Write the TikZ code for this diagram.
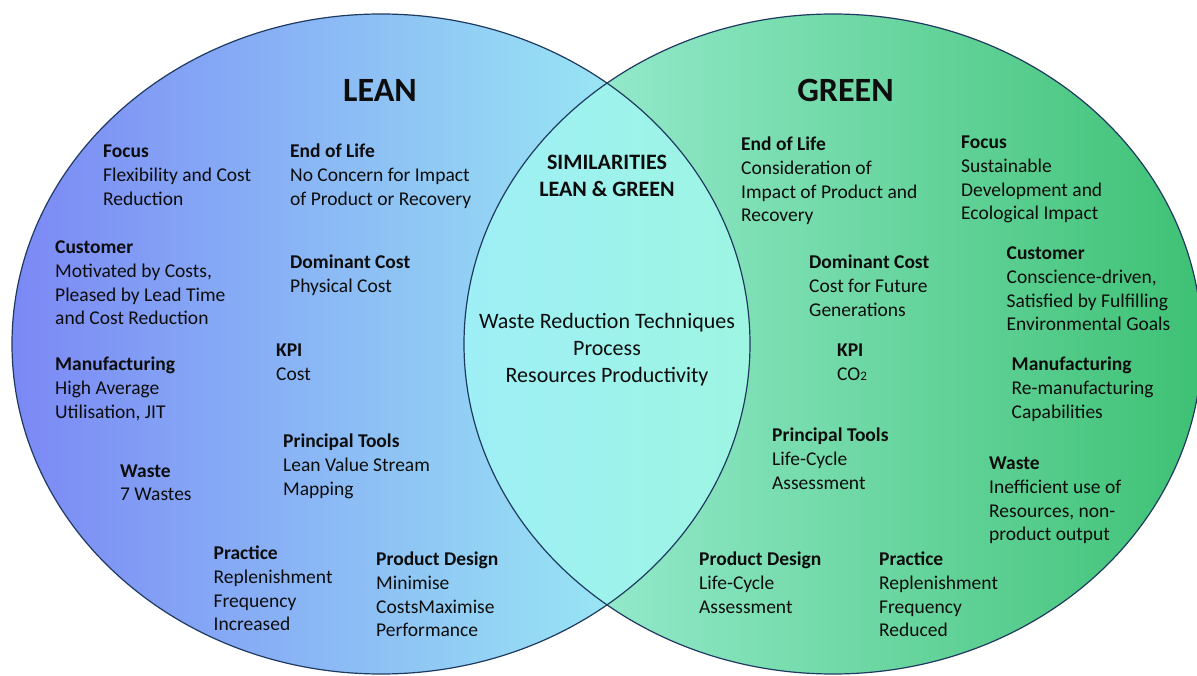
\documentclass[tikz,border=0pt]{standalone}
\usepackage{fontspec}
\setmainfont{Carlito}

% fills of the two sets and of their overlap
\definecolor{leanL}{HTML}{7B88F5}
\definecolor{leanM}{HTML}{A4D4F6}
\definecolor{leanR}{HTML}{A0FBF4}
\definecolor{greenL}{HTML}{A6F2DE}
\definecolor{greenM}{HTML}{84E3BB}
\definecolor{greenR}{HTML}{3EC174}
\definecolor{bothL}{HTML}{9EEFF6}
\definecolor{bothR}{HTML}{9EF5E2}
\definecolor{rim}{HTML}{1F3A60}
\definecolor{txt}{HTML}{0D0D0D}

% a bold heading followed by left-aligned lines (separated by \cr);
% the box's baseline is the heading's baseline
\newcommand{\infoblock}[2]{\vtop{\halign{##\hfil\cr\textbf{#1}\cr#2\crcr}}}
% centred lines, baseline at the first line
\newcommand{\centreblock}[1]{\vtop{\halign{\hfil##\hfil\cr#1\crcr}}}

\begin{document}
\begin{tikzpicture}[x=1pt,y=-1pt,
  info/.style={anchor=base west, inner sep=0pt, text=txt,
    font=\fontsize{19.5}{23.8}\selectfont},
  settitle/.style={anchor=base, inner sep=0pt, text=txt,
    font=\fontsize{34}{40}\selectfont\bfseries},
  overlap/.style={anchor=base, inner sep=0pt, text=txt},
  rimline/.style={draw=rim, line width=1.2pt}]

\useasboundingbox (0,0) rectangle (1197,676);
\fill[white] (0,0) rectangle (1197,676);
\clip (0,0) rectangle (1197,676);

% the two sets
\shade[left color=leanL, middle color=leanM, right color=leanR]
  (381,344) ellipse [x radius=369pt, y radius=330pt];
\shade[left color=greenL, middle color=greenM, right color=greenR]
  (833,344) ellipse [x radius=369pt, y radius=330pt];

% their overlap
\begin{scope}
  \clip (381,344) ellipse [x radius=369pt, y radius=330pt];
  \clip (833,344) ellipse [x radius=369pt, y radius=330pt];
  \shade[left color=bothL, right color=bothR] (464,10) rectangle (750,680);
\end{scope}

% outlines
\path[rimline] (381,344) ellipse [x radius=369pt, y radius=330pt];
\path[rimline] (833,344) ellipse [x radius=369pt, y radius=330pt];

% titles
\node[settitle] (leantitle) at (380,102) {LEAN};
\node[settitle] (greentitle) at (845.5,102) {GREEN};

% overlap texts
\node[overlap, font=\fontsize{22}{26.8}\selectfont\bfseries] (simtitle) at (607,170)
  {\centreblock{SIMILARITIES\cr LEAN \& GREEN}};
\node[overlap, font=\fontsize{22}{26.6}\selectfont] (simtext) at (607,329)
  {\centreblock{Waste Reduction Techniques\cr Process\cr Resources Productivity}};

% lean side
\node[info] (lfocus) at (103,158)
  {\infoblock{Focus}{Flexibility and Cost\cr Reduction}};
\node[info] (leol) at (290,158)
  {\infoblock{End of Life}{No Concern for Impact\cr of Product or Recovery}};
\node[info] (lcust) at (55,253.5)
  {\infoblock{Customer}{Motivated by Costs,\cr Pleased by Lead Time\cr and Cost Reduction}};
\node[info] (ldom) at (290,268.5)
  {\infoblock{Dominant Cost}{Physical Cost}};
\node[info] (lmanu) at (55,370.5)
  {\infoblock{Manufacturing}{High Average\cr Utilisation, JIT}};
\node[info] (lkpi) at (276,356.5)
  {\infoblock{KPI}{Cost}};
\node[info] (lwaste) at (120,477)
  {\infoblock{Waste}{7 Wastes}};
\node[info] (ltools) at (283,447.5)
  {\infoblock{Principal Tools}{Lean Value Stream\cr Mapping}};
\node[info] (lprac) at (213.5,559.5)
  {\infoblock{Practice}{Replenishment\cr Frequency\cr Increased}};
\node[info] (lprod) at (376,565.5)
  {\infoblock{Product Design}{Minimise\cr CostsMaximise\cr Performance}};

% green side
\node[info] (reol) at (741,150.5)
  {\infoblock{End of Life}{Consideration of\cr Impact of Product and\cr Recovery}};
\node[info] (rfocus) at (961,148.5)
  {\infoblock{Focus}{Sustainable\cr Development and\cr Ecological Impact}};
\node[info] (rdom) at (809,268.5)
  {\infoblock{Dominant Cost}{Cost for Future\cr Generations}};
\node[info] (rcust) at (1006.5,259.5)
  {\infoblock{Customer}{Conscience-driven,\cr Satisfied by Fulfilling\cr Environmental Goals}};
\node[info] (rkpi) at (837,356.5)
  {\infoblock{KPI}{CO{\fontsize{13}{13}\selectfont 2}}};
\node[info] (rmanu) at (1011.5,370.5)
  {\infoblock{Manufacturing}{Re-manufacturing\cr Capabilities}};
\node[info] (rtools) at (772,441.5)
  {\infoblock{Principal Tools}{Life-Cycle\cr Assessment}};
\node[info] (rwaste) at (989,469.5)
  {\infoblock{Waste}{Inefficient use of\cr Resources, non-\cr product output}};
\node[info] (rprod) at (699,565.5)
  {\infoblock{Product Design}{Life-Cycle\cr Assessment}};
\node[info] (rprac) at (879,565.5)
  {\infoblock{Practice}{Replenishment\cr Frequency\cr Reduced}};

\end{tikzpicture}
\end{document}
